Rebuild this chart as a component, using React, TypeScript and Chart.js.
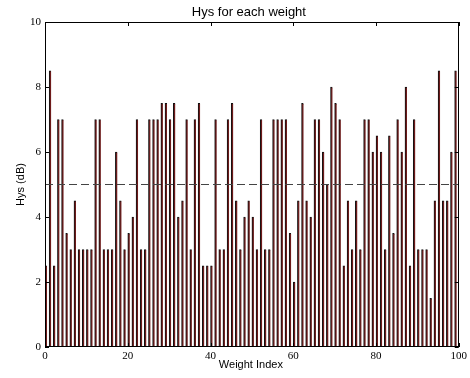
import React, { useEffect, useRef } from 'react';
import { Chart, registerables } from 'chart.js';

Chart.register(...registerables);

const hysValues: number[] = [
  2.5, 8.5, 2.5, 7, 7, 3.5, 3, 4.5, 3, 3,
  3, 3, 7, 7, 3, 3, 3, 6, 4.5, 3,
  3.5, 4, 7, 3, 3, 7, 7, 7, 7.5, 7.5,
  7, 7.5, 4, 4.5, 7, 3, 7, 7.5, 2.5, 2.5,
  2.5, 7, 3, 3, 7, 7.5, 4.5, 3, 4, 4.5,
  4, 3, 7, 3, 3, 7, 7, 7, 7, 3.5,
  2, 4.5, 7.5, 4.5, 4, 7, 7, 6, 5, 8,
  7.5, 7, 2.5, 4.5, 3, 4.5, 3, 7, 7, 6,
  6.5, 6, 3, 6.5, 3.5, 7, 6, 8, 2.5, 7,
  3, 3, 3, 1.5, 4.5, 8.5, 4.5, 4.5, 6, 8.5,
];
const thresholdValue = 5;
const xTicks = [0, 20, 40, 60, 80, 100];
const yTicks = [0, 2, 4, 6, 8, 10];
const chartTitle = 'Hys for each weight';
const xLabel = 'Weight Index';
const yLabel = 'Hys (dB)';

export default function App() {
  const ref = useRef<HTMLCanvasElement>(null);

  useEffect(() => {
    const framePlugin = {
      id: 'frame',
      afterDraw(chart: any) {
        const { ctx, chartArea } = chart;
        const { left, right, top, bottom } = chartArea;
        const xs = chart.scales.x;
        const ys = chart.scales.y;
        ctx.save();
        ctx.strokeStyle = '#000';
        ctx.lineWidth = 1;
        ctx.strokeRect(Math.round(left) + 0.5, Math.round(top) + 0.5, Math.round(right - left) - 1, Math.round(bottom - top) - 1);
        ctx.beginPath();
        const tl = 4;
        xTicks.forEach((v) => {
          const px = Math.round(xs.getPixelForValue(v)) + 0.5;
          ctx.moveTo(px, bottom);
          ctx.lineTo(px, bottom - tl);
          ctx.moveTo(px, top);
          ctx.lineTo(px, top + tl);
        });
        yTicks.forEach((v) => {
          const py = Math.round(ys.getPixelForValue(v)) + 0.5;
          ctx.moveTo(left, py);
          ctx.lineTo(left + tl, py);
          ctx.moveTo(right, py);
          ctx.lineTo(right - tl, py);
        });
        ctx.stroke();
        ctx.fillStyle = '#000';
        ctx.textAlign = 'center';
        ctx.textBaseline = 'middle';
        ctx.font = '13px "Liberation Sans", Arial, sans-serif';
        ctx.fillText(chartTitle, (left + right) / 2 - 3, 12);
        ctx.font = '11px "Liberation Sans", Arial, sans-serif';
        ctx.fillText(xLabel, (left + right) / 2 - 1, 365);
        ctx.translate(21, (top + bottom) / 2);
        ctx.rotate(-Math.PI / 2);
        ctx.fillText(yLabel, 0, 0);
        ctx.restore();
      },
    };

    const barData = hysValues.map((v, i) => ({ x: i + 0.25, y: v }));
    const lineData = [
      { x: 0, y: thresholdValue },
      { x: 100, y: thresholdValue },
    ];

    const chart = new Chart(ref.current as HTMLCanvasElement, {
      type: 'bar',
      data: {
        datasets: [
          {
            type: 'line',
            data: lineData,
            borderColor: '#444',
            borderWidth: 1.2,
            borderDash: [8, 4],
            pointRadius: 0,
            fill: false,
          } as any,
          {
            type: 'bar',
            data: barData,
            backgroundColor: '#6e1a1a',
            borderColor: '#111',
            borderWidth: { left: 1, right: 0, top: 1, bottom: 0 },
            borderSkipped: false,
            barThickness: 2,
          } as any,
        ],
      },
      options: {
        animation: false,
        responsive: true,
        maintainAspectRatio: false,
        layout: { padding: { top: 22, right: 9, left: 0, bottom: 0 } },
        plugins: {
          legend: { display: false },
          tooltip: { enabled: false },
          title: { display: false },
        },
        scales: {
          x: {
            type: 'linear',
            min: 0,
            max: 100,
            offset: false,
            grid: { display: false, drawTicks: false, offset: false },
            border: { display: false },
            ticks: {
              stepSize: 20,
              padding: 3,
              color: '#000',
              maxRotation: 0,
              font: { family: '"Liberation Serif", "Times New Roman", serif', size: 11 },
            },
            afterFit: (scale: any) => {
              scale.height = 31;
            },
          },
          y: {
            type: 'linear',
            min: 0,
            max: 10,
            grid: { display: false, drawTicks: false },
            border: { display: false },
            ticks: {
              stepSize: 2,
              padding: 4,
              color: '#000',
              font: { family: '"Liberation Serif", "Times New Roman", serif', size: 11 },
            },
            afterFit: (scale: any) => {
              scale.width = 45;
            },
          },
        },
      } as any,
      plugins: [framePlugin],
    });
    return () => chart.destroy();
  }, []);

  return (
    <div style={{ position: 'fixed', left: 0, top: 0, width: 470, height: 378, background: '#fff' }}>
      <canvas ref={ref} style={{ display: 'block' }} />
    </div>
  );
}
